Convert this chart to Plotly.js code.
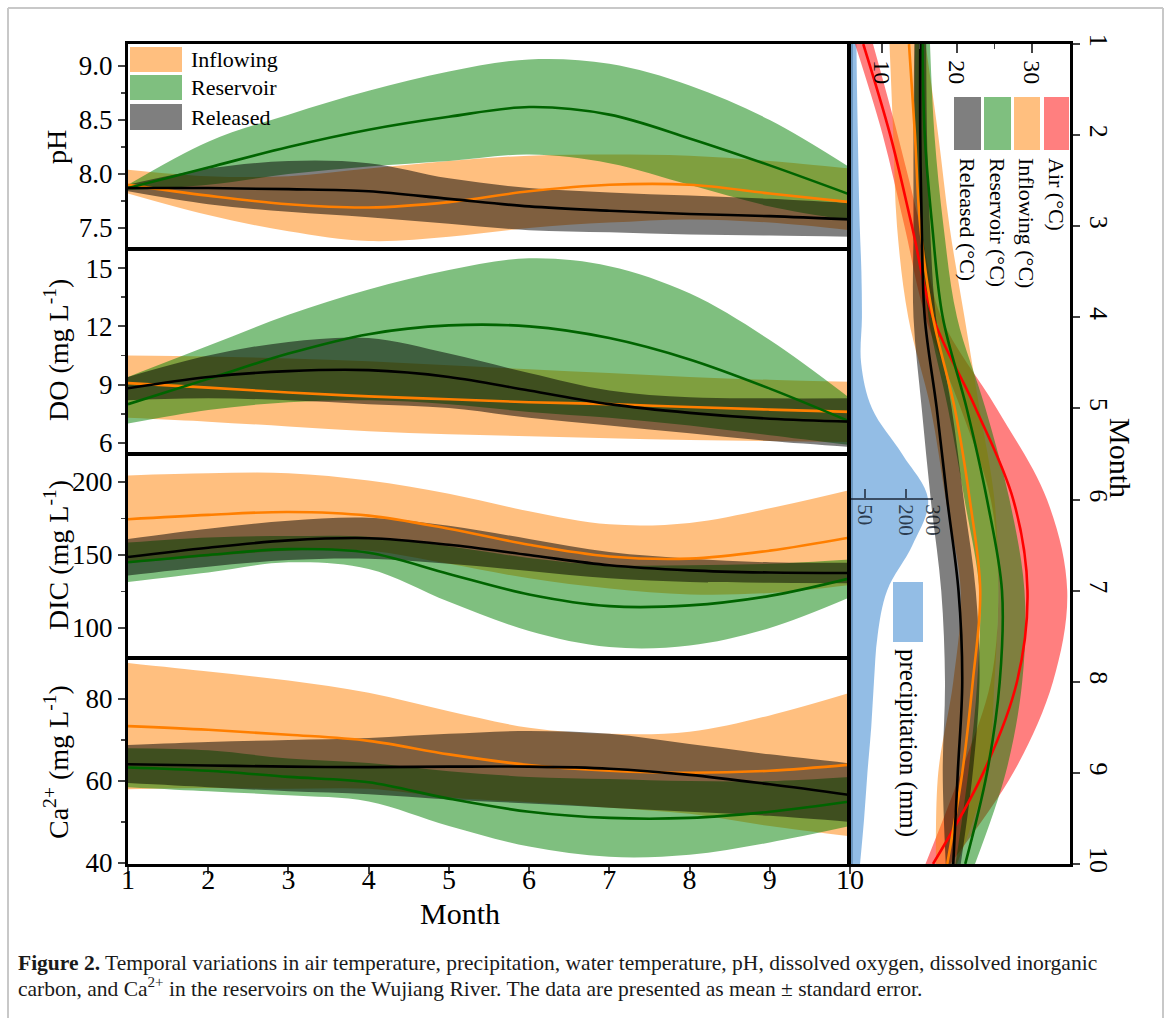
<!DOCTYPE html>
<html><head><meta charset="utf-8">
<script src="https://cdn.plot.ly/plotly-3.0.1.min.js"></script>
<style>html,body{margin:0;padding:0;background:#fff}#chart{width:1168px;height:1018px}</style>
</head><body><div id="chart"></div>
<script>
// ---------- DATA ----------
const months = [1,2,3,4,5,6,7,8,9,10];

// pH
const phInMean  = [7.90,7.80,7.72,7.69,7.74,7.84,7.90,7.90,7.82,7.74];
const phInUp    = [8.04,7.98,7.98,8.05,8.12,8.17,8.18,8.17,8.12,8.05];
const phInLo    = [7.82,7.62,7.47,7.38,7.42,7.50,7.55,7.58,7.55,7.48];
const phResMean = [7.87,8.06,8.25,8.41,8.53,8.62,8.55,8.33,8.08,7.81];
const phResUp   = [7.90,8.30,8.55,8.77,8.95,9.06,9.02,8.82,8.50,8.06];
const phResLo   = [7.85,7.90,8.00,8.07,8.12,8.18,8.10,7.90,7.70,7.57];
const phRelMean = [7.87,7.87,7.86,7.84,7.77,7.70,7.66,7.63,7.61,7.58];
const phRelUp   = [7.90,8.05,8.12,8.10,7.96,7.87,7.83,7.80,7.77,7.73];
const phRelLo   = [7.84,7.72,7.65,7.60,7.54,7.48,7.46,7.44,7.43,7.42];

// DO (mg/L)
const doInMean  = [9.08,8.85,8.60,8.40,8.25,8.10,8.00,7.85,7.72,7.60];
const doInUp    = [10.5,10.45,10.35,10.2,10.0,9.8,9.6,9.4,9.25,9.15];
const doInLo    = [7.30,7.10,6.85,6.60,6.45,6.35,6.25,6.15,6.10,6.05];
const doResMean = [8.0,9.3,10.6,11.6,12.05,12.0,11.4,10.3,8.8,7.1];
const doResUp   = [9.4,11.0,12.6,13.9,14.9,15.5,15.1,13.7,11.3,8.3];
const doResLo   = [7.0,7.7,8.1,8.2,8.0,7.6,7.3,6.9,6.4,5.9];
const doRelMean = [8.82,9.4,9.7,9.75,9.4,8.7,8.0,7.55,7.25,7.1];
const doRelUp   = [9.4,10.5,11.2,11.4,10.6,9.6,8.7,8.35,8.3,8.3];
const doRelLo   = [8.2,8.3,8.2,8.0,7.8,7.3,6.9,6.5,6.1,5.8];

// DIC (mg/L)
const dicInMean  = [174.5,177.5,179.5,177,168,157,149,147.5,153,162];
const dicInUp    = [204.5,206,206,201,192,180,171,172,182,194.5];
const dicInLo    = [144.5,149,153,153,144,134,127,123,124,129.5];
const dicResMean = [145,150,154,151.5,137,123,115,115.5,122,134];
const dicResUp   = [158.5,162,163,162.5,156,148,143,143,144,147];
const dicResLo   = [131.5,138,145,140.5,118,98,87,88,100,121];
const dicRelMean = [148.6,155,160,161.5,157,150,143,139.5,138,137.7];
const dicRelUp   = [161,168,173.5,175.5,170,161,152,147.5,145,144.7];
const dicRelLo   = [136,142,146.5,147.5,144,139,134,131.5,131,130.7];

// Ca2+ (mg/L)
const caInMean  = [73.4,72.5,71.3,69.8,66.5,63.9,62.5,62,62.5,64];
const caInUp    = [88.8,86.7,84.5,81.5,77,73,71.5,72,76,81.5];
const caInLo    = [58,58.3,58.1,58.1,56,54.8,53.5,52,49,46.5];
const caResMean = [63.3,62.5,61,59.7,55.7,52.5,51,51,52.5,55];
const caResUp   = [68,67.5,65.5,64.4,62.4,61,60.5,60,60,61];
const caResLo   = [58.5,57.5,56.5,55,49,44,41.5,42,45,49];
const caRelMean = [64.1,63.8,63.5,63.4,63.5,63.5,63,61.5,59.2,56.6];
const caRelUp   = [68.8,69.5,70,70.5,71.5,72.2,71.5,69,66.5,64.3];
const caRelLo   = [59.5,58.5,57.5,56.8,55.5,54.5,53.5,52.5,51.5,50];

// Temperature (°C), right panel
const airMean = [7.5,11.1,14.0,16.8,22.5,27.5,29.4,28.0,23.5,16.8];
const airUp   = [8.8,12.1,15.1,17.9,25.3,32.0,34.7,32.8,27.5,19.1];
const airLo   = [6.4,10.1,13.0,15.8,20.5,24.5,25.5,24.5,20.5,15.8];
const tInMean = [13.6,14.4,15.1,16.8,19.7,21.7,23.1,22.1,20.7,18.7];
const tInUp   = [15.8,17.5,19.0,21.0,23.0,25.0,25.5,25.0,24.0,20.0];
const tInLo   = [11.0,11.5,12.0,13.5,16.5,18.5,20.5,19.5,17.5,17.2];
const tResMean= [15.4,15.7,16.7,18.1,21.3,24.0,26.0,25.7,24.0,21.1];
const tResUp  = [16.4,17.0,18.2,20.0,23.8,27.0,29.0,28.7,26.5,22.4];
const tResLo  = [14.4,14.4,15.2,16.2,18.8,21.0,23.0,22.7,21.5,19.8];
const tRelMean= [15.1,15.1,15.3,15.7,17.3,18.7,20.2,20.7,20.1,19.5];
const tRelUp  = [15.9,16.0,16.4,17.2,19.3,20.9,22.5,23.0,22.1,20.5];
const tRelLo  = [14.3,14.2,14.2,14.2,15.3,16.5,17.9,18.4,18.1,18.5];

// Precipitation (mm)
const precipMonths = [1,1.5,2,2.5,3,3.5,4,4.5,5,5.5,6,6.5,7,7.5,8,8.5,9,9.5,10];
const precipVals   = [20,22,25,28,32,38,40,37,77,187,282,225,132,97,84,74,60,48,33];

// Labels
const seriesNames = ['Inflowing','Reservoir','Released'];
const tempNames = ['Air (°C)','Inflowing (°C)','Reservoir (°C)','Released (°C)'];
const precipTicks = [50,200,300];
const tempTicks = [10,20,30];

// ---------- STYLE / GEOMETRY ----------
const W=1168,H=1018;
const px=x=>x/W, py=y=>1-y/H;
const FONT='"Liberation Serif","Times New Roman",serif';
const C={inBand:'rgba(255,128,0,0.5)',resBand:'rgba(0,128,0,0.5)',relBand:'rgba(0,0,0,0.5)',airBand:'rgba(255,0,0,0.5)',
  inLine:'#ff7f00',resLine:'#006400',relLine:'#000000',airLine:'#ff0000',precip:'rgba(128,178,224,0.85)'};

const traces=[];
function bandH(lo,up,color,xa,ya){
  traces.push({x:months,y:lo,mode:'lines',line:{width:0,shape:'spline'},xaxis:xa,yaxis:ya,hoverinfo:'skip',showlegend:false});
  traces.push({x:months,y:up,mode:'lines',line:{width:0,shape:'spline'},fill:'tonexty',fillcolor:color,xaxis:xa,yaxis:ya,hoverinfo:'skip',showlegend:false});
}
function lineH(v,color,xa,ya){
  traces.push({x:months,y:v,mode:'lines',line:{width:2.6,color:color,shape:'spline'},xaxis:xa,yaxis:ya,hoverinfo:'skip',showlegend:false});
}
function bandV(lo,up,color,xa,ya){
  traces.push({x:lo,y:months,mode:'lines',line:{width:0,shape:'spline'},xaxis:xa,yaxis:ya,hoverinfo:'skip',showlegend:false});
  traces.push({x:up,y:months,mode:'lines',line:{width:0,shape:'spline'},fill:'tonextx',fillcolor:color,xaxis:xa,yaxis:ya,hoverinfo:'skip',showlegend:false});
}
function lineV(v,color,xa,ya){
  traces.push({x:v,y:months,mode:'lines',line:{width:2.6,color:color,shape:'spline'},xaxis:xa,yaxis:ya,hoverinfo:'skip',showlegend:false});
}

const panels=[
  {xa:'x',ya:'y',d:[[phInLo,phInUp,phInMean],[phResLo,phResUp,phResMean],[phRelLo,phRelUp,phRelMean]]},
  {xa:'x2',ya:'y2',d:[[doInLo,doInUp,doInMean],[doResLo,doResUp,doResMean],[doRelLo,doRelUp,doRelMean]]},
  {xa:'x3',ya:'y3',d:[[dicInLo,dicInUp,dicInMean],[dicResLo,dicResUp,dicResMean],[dicRelLo,dicRelUp,dicRelMean]]},
  {xa:'x4',ya:'y4',d:[[caInLo,caInUp,caInMean],[caResLo,caResUp,caResMean],[caRelLo,caRelUp,caRelMean]]}
];
const bandCols=[C.inBand,C.resBand,C.relBand], lineCols=[C.inLine,C.resLine,C.relLine];
panels.forEach(p=>{
  p.d.forEach((s,i)=>bandH(s[0],s[1],bandCols[i],p.xa,p.ya));
  p.d.forEach((s,i)=>lineH(s[2],lineCols[i],p.xa,p.ya));
});

// precipitation (drawn under temperature)
traces.push({x:precipVals,y:precipMonths,mode:'lines',line:{width:0,shape:'spline'},fill:'tozerox',fillcolor:C.precip,xaxis:'x5',yaxis:'y5',hoverinfo:'skip',showlegend:false});

// temperature
bandV(airLo,airUp,C.airBand,'x6','y6');
bandV(tInLo,tInUp,C.inBand,'x6','y6');
bandV(tResLo,tResUp,C.resBand,'x6','y6');
bandV(tRelLo,tRelUp,C.relBand,'x6','y6');
lineV(airMean,C.airLine,'x6','y6');
lineV(tInMean,C.inLine,'x6','y6');
lineV(tResMean,C.resLine,'x6','y6');
lineV(tRelMean,C.relLine,'x6','y6');

// invisible carriers so that the label-only axes are drawn
traces.push({x:months,y:caInMean,mode:'lines',opacity:0,line:{width:0},xaxis:'x7',yaxis:'y4',hoverinfo:'skip',showlegend:false});
traces.push({x:airMean,y:months,mode:'lines',opacity:0,line:{width:0},xaxis:'x8',yaxis:'y5',hoverinfo:'skip',showlegend:false});

// ---------- AXES ----------
const tf=(s)=>({family:FONT,size:s,color:'#000'});
const frame={showline:true,mirror:true,linewidth:3,linecolor:'#000',showgrid:false,zeroline:false};
function xLeft(anchor,bottom){
  return Object.assign({},frame,{domain:[px(128),px(850)],range:[1,10],anchor:anchor,
    ticks:bottom?'outside':'',ticklen:7,tickwidth:2,tickmode:'array',tickvals:months,showticklabels:false});
}
function yLeft(anchor,top,bot,range,t0,dt,fmt){
  return Object.assign({},frame,{domain:[py(bot),py(top)],range:range,anchor:anchor,
    ticks:'outside',ticklen:7,tickwidth:2,tick0:t0,dtick:dt,tickformat:fmt,tickfont:tf(27),
    minor:{tick0:t0,dtick:dt/2,ticks:'outside',ticklen:4,tickwidth:1.5,showgrid:false}});
}

const layout={
  width:W,height:H,margin:{l:0,r:0,t:0,b:0},paper_bgcolor:'#fff',plot_bgcolor:'rgba(0,0,0,0)',showlegend:false,
  font:{family:FONT,color:'#000'},
  xaxis:xLeft('y',false), xaxis2:xLeft('y2',false), xaxis3:xLeft('y3',false), xaxis4:xLeft('y4',true),
  yaxis:yLeft('x',44,248,[7.315,9.204],7.5,0.5,'.1f'),
  yaxis2:yLeft('x2',250,453,[5.486,15.93],6,3,'d'),
  yaxis3:yLeft('x3',455,657,[80.14,218.5],100,50,'d'),
  yaxis4:yLeft('x4',659,864,[39.76,89.76],40,20,'d'),
  // month labels under the bottom panel (label-only axis)
  xaxis7:{domain:[px(128),px(850)],range:[1,10],overlaying:'x4',anchor:'free',position:py(860),side:'bottom',
    showline:false,ticks:'',showgrid:false,zeroline:false,tickmode:'array',tickvals:months,tickfont:tf(28)},
  xaxis5:{domain:[px(851),px(933)],range:[0,300],anchor:'free',position:py(499),showline:true,linewidth:2,
    linecolor:'rgba(20,30,45,0.7)',ticks:'inside',ticklen:9,tickwidth:2,tickcolor:'rgba(20,30,45,0.7)',
    tickmode:'array',tickvals:precipTicks,tickangle:90,tickfont:{family:FONT,size:21,color:'rgba(15,25,40,0.78)'},
    showgrid:false,zeroline:false},
  yaxis5:{domain:[py(864),py(44)],range:[10,1],anchor:'x5',visible:false},
  xaxis6:Object.assign({},frame,{domain:[px(850),px(1070)],range:[5.733,35.07],anchor:'y6',side:'top',
    ticks:'inside',ticklen:9,tickwidth:2,tick0:10,dtick:10,showticklabels:false,
    minor:{tick0:5,dtick:5,ticks:'inside',ticklen:5,tickwidth:1.5,showgrid:false}}),
  // temperature tick labels, drawn inside the top of the right panel
  xaxis8:{domain:[px(850),px(1070)],range:[5.733,35.07],anchor:'y5',side:'top',showline:false,ticks:'',
    showgrid:false,zeroline:false,tickmode:'array',tickvals:tempTicks,ticklabelposition:'inside',tickangle:90,tickfont:tf(24)},
  yaxis6:Object.assign({},frame,{domain:[py(864),py(44)],range:[10.0005,0.9995],anchor:'x6',side:'right',
    ticks:'outside',ticklen:7,tickwidth:2,tickmode:'array',tickvals:months,tickangle:90,tickfont:tf(26)}),
  shapes:[],annotations:[]
};

// border of figure
const border='#c8c8c8';
layout.shapes.push({type:'line',xref:'paper',yref:'paper',x0:px(8),x1:px(8),y0:py(8),y1:py(1018),line:{color:border,width:2}});
layout.shapes.push({type:'line',xref:'paper',yref:'paper',x0:px(8),x1:px(1163),y0:py(8),y1:py(8),line:{color:border,width:2}});
layout.shapes.push({type:'line',xref:'paper',yref:'paper',x0:px(1163),x1:px(1163),y0:py(8),y1:py(1018),line:{color:border,width:2}});

// left legend
const legY=[[47,72],[75,100],[104,130]];
seriesNames.forEach((n,i)=>{
  layout.shapes.push({type:'rect',xref:'paper',yref:'paper',x0:px(130),x1:px(182),y0:py(legY[i][1]),y1:py(legY[i][0]),
    fillcolor:bandCols[i],line:{width:0},layer:'above'});
  layout.annotations.push({xref:'paper',yref:'paper',x:px(189),y:py((legY[i][0]+legY[i][1])/2),xanchor:'left',yanchor:'middle',
    text:n,showarrow:false,font:tf(22)});
});

// right legend (rotated)
const tLegX=[[1044,1069],[1014,1040],[984,1011],[954,981]];
const tLegCols=[C.airBand,C.inBand,C.resBand,C.relBand];
tempNames.forEach((n,i)=>{
  layout.shapes.push({type:'rect',xref:'paper',yref:'paper',x0:px(tLegX[i][0]),x1:px(tLegX[i][1]),y0:py(150),y1:py(97),
    fillcolor:tLegCols[i],line:{width:0},layer:'above'});
  layout.annotations.push({xref:'paper',yref:'paper',x:px((tLegX[i][0]+tLegX[i][1])/2),y:py(156),xanchor:'center',yanchor:'top',
    text:n,textangle:90,showarrow:false,font:tf(22)});
});
// precipitation legend
layout.shapes.push({type:'rect',xref:'paper',yref:'paper',x0:px(893),x1:px(923),y0:py(642),y1:py(582),
  fillcolor:C.precip,line:{width:0},layer:'above'});
layout.annotations.push({xref:'paper',yref:'paper',x:px(908),y:py(647),xanchor:'center',yanchor:'top',
  text:'precipitation (mm)',textangle:90,showarrow:false,font:tf(25)});

// axis titles
const yTitles=[['pH',147],['DO (mg L<sup>-1</sup>)',350],['DIC (mg L<sup>-1</sup>)',555],['Ca<sup>2+</sup> (mg L<sup>-1</sup>)',762]];
yTitles.forEach(t=>layout.annotations.push({xref:'paper',yref:'paper',x:px(56),y:py(t[1]),xanchor:'center',yanchor:'middle',
  text:t[0],textangle:-90,showarrow:false,font:tf(28)}));
layout.annotations.push({xref:'paper',yref:'paper',x:px(460),y:py(913),xanchor:'center',yanchor:'middle',text:'Month',showarrow:false,font:tf(30)});
layout.annotations.push({xref:'paper',yref:'paper',x:px(1121),y:py(458),xanchor:'center',yanchor:'middle',text:'Month',textangle:90,showarrow:false,font:tf(30)});

// caption
const capFont={family:FONT,size:21.5,color:'#1a1a1a'};
layout.annotations.push({xref:'paper',yref:'paper',x:px(16),y:py(963),xanchor:'left',yanchor:'middle',showarrow:false,font:capFont,
  text:'<b>Figure 2.</b> Temporal variations in air temperature, precipitation, water temperature, pH, dissolved oxygen, dissolved inorganic'});
layout.annotations.push({xref:'paper',yref:'paper',x:px(16),y:py(987),xanchor:'left',yanchor:'middle',showarrow:false,font:capFont,
  text:'carbon, and Ca<sup>2+</sup> in the reservoirs on the Wujiang River. The data are presented as mean ± standard error.'});

Plotly.newPlot('chart',traces,layout,{displayModeBar:false,staticPlot:true});
</script></body></html>
